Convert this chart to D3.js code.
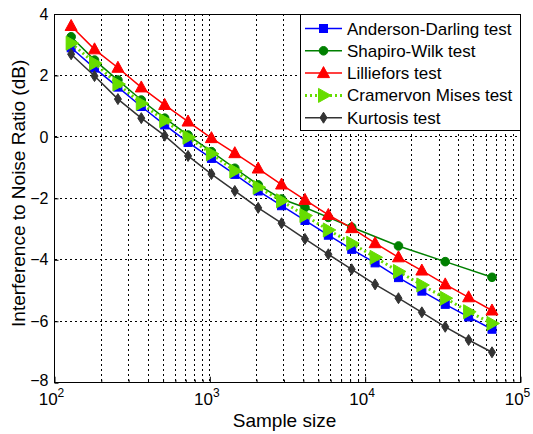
<!DOCTYPE html>
<html><head><meta charset="utf-8">
<script src="https://cdn.jsdelivr.net/npm/d3@7"></script>
<style>body{margin:0;background:#fff}svg{display:block}text{font-family:"Liberation Sans",Arial,sans-serif}</style>
</head><body>
<svg id="c" width="533" height="434"></svg>
<script>
const sampleSizes = [128,181,256,362,512,724,1024,1448,2048,2896,4096,5793,8192,11585,16384,23170,32768,46341,65536];
const swSizes = [128,181,256,362,512,724,1024,1448,2048,2896,4096,5793,8192,16384,32768,65536];
const andersonDarling = [2.90,2.24,1.62,0.99,0.39,-0.18,-0.70,-1.22,-1.76,-2.24,-2.72,-3.20,-3.66,-4.10,-4.58,-5.02,-5.45,-5.86,-6.26];
const shapiroWilk = [3.26,2.50,1.85,1.20,0.61,0.06,-0.48,-1.02,-1.56,-2.02,-2.30,-2.62,-2.94,-3.55,-4.06,-4.57];
const lilliefors = [3.61,2.85,2.25,1.61,1.04,0.50,-0.04,-0.53,-1.03,-1.55,-2.05,-2.54,-2.97,-3.46,-3.92,-4.35,-4.80,-5.22,-5.65];
const cramervon = [3.05,2.40,1.72,1.09,0.53,-0.01,-0.55,-1.11,-1.64,-2.08,-2.56,-3.03,-3.46,-3.92,-4.38,-4.82,-5.25,-5.69,-6.07];
const kurtosis = [2.69,1.98,1.23,0.61,0.04,-0.62,-1.21,-1.76,-2.31,-2.81,-3.32,-3.82,-4.31,-4.80,-5.25,-5.71,-6.18,-6.61,-7.01];
const seriesNames = ["Anderson-Darling test","Shapiro-Wilk test","Lilliefors test","Cramervon Mises test","Kurtosis test"];
const xTickExps = [2,3,4,5];
const yTicks = [-8,-6,-4,-2,0,2,4];

const series = [
  {name:seriesNames[0], xs:sampleSizes, ys:andersonDarling, color:"#0000ff", marker:"square", dash:null, w:1.5},
  {name:seriesNames[1], xs:swSizes, ys:shapiroWilk, color:"#008000", marker:"circle", dash:null, w:1.5},
  {name:seriesNames[2], xs:sampleSizes, ys:lilliefors, color:"#ff0000", marker:"triUp", dash:null, w:1.5},
  {name:seriesNames[3], xs:sampleSizes, ys:cramervon, color:"#66dd00", marker:"triRight", dash:"2,3", w:3},
  {name:seriesNames[4], xs:sampleSizes, ys:kurtosis, color:"#333333", marker:"diamond", dash:null, w:1.5}
];

const L=54.5, R=520.5, T=14, B=382.7;
const svg = d3.select("#c");
const x = d3.scaleLog().domain([100,100000]).range([L,R]);
const y = d3.scaleLinear().domain([-8,4]).range([B,T]);

// grid
const minor = [];
for (let e=2;e<5;e++) for (let k=1;k<10;k++) minor.push(k*Math.pow(10,e));
minor.push(100000);
const g = svg.append("g").attr("shape-rendering","crispEdges");
g.selectAll("line.vg").data(minor.filter(v=>v>100&&v<100000)).enter().append("line")
  .attr("x1",d=>x(d)).attr("x2",d=>x(d)).attr("y1",T).attr("y2",B)
  .attr("stroke","#000").attr("stroke-width",1).attr("stroke-dasharray","2,3");
g.selectAll("line.hg").data(yTicks.filter(v=>v>-8&&v<4)).enter().append("line")
  .attr("x1",L).attr("x2",R).attr("y1",d=>y(d)).attr("y2",d=>y(d))
  .attr("stroke","#000").attr("stroke-width",1).attr("stroke-dasharray","2,3");

// axes box
svg.append("rect").attr("x",L).attr("y",T).attr("width",R-L).attr("height",B-T)
  .attr("fill","none").attr("stroke","#000").attr("stroke-width",1).attr("shape-rendering","crispEdges");

// ticks via d3 axes
const yAxis = d3.axisLeft(y).tickValues(yTicks).tickSize(-4).tickPadding(6).tickFormat(d3.format("d"));
const ya = svg.append("g").attr("transform",`translate(${L},0)`).call(yAxis);
ya.select(".domain").remove();
ya.selectAll("text").attr("font-size",16).attr("fill","#000").attr("font-family","Liberation Sans, Arial")
  .attr("dy",d=>d===-8?"0.2em":"0.32em");
const xAxis = d3.axisBottom(x).tickValues(minor.filter(v=>v>=100)).tickSize(-4).tickFormat("");
const xa = svg.append("g").attr("transform",`translate(0,${B})`).call(xAxis);
xa.select(".domain").remove();
xa.selectAll(".tick line").attr("y2",d=>xTickExps.some(e=>Math.abs(Math.pow(10,e)-d)<1)?-6:-3);
// x tick labels
const xl = svg.append("g");
xTickExps.forEach(e=>{
  const t = xl.append("text").attr("x",x(Math.pow(10,e))-3).attr("y",B+22).attr("text-anchor","middle")
    .attr("font-size",17).attr("fill","#000");
  t.append("tspan").text("10");
  t.append("tspan").attr("dy",-8).attr("font-size",12).text(e);
});
// titles
svg.append("text").attr("x",(L+R)/2-3).attr("y",427).attr("text-anchor","middle")
  .attr("font-size",19).text("Sample size");
svg.append("text").attr("transform",`translate(25,${(T+B)/2-5}) rotate(-90)`).attr("text-anchor","middle")
  .attr("font-size",19).text("Interference to Noise Ratio (dB)");

function marker(sel, type, color){
  sel.each(function(){
    const s = d3.select(this);
    if(type==="square") s.append("rect").attr("x",-4).attr("y",-4).attr("width",8).attr("height",8).attr("fill",color).attr("stroke",color);
    else if(type==="circle") s.append("circle").attr("r",4.3).attr("fill",color).attr("stroke",color);
    else if(type==="triUp") s.append("path").attr("d","M0,-6.5L6,4.5L-6,4.5Z").attr("fill",color).attr("stroke",color);
    else if(type==="triRight") s.append("path").attr("d","M7.5,0L-5,-7L-5,7Z").attr("fill",color).attr("stroke",color);
    else if(type==="diamond") s.append("path").attr("d","M0,-5.5L3.5,0L0,5.5L-3.5,0Z").attr("fill",color).attr("stroke",color);
  });
}

const line = d3.line().x(d=>x(d[0])).y(d=>y(d[1]));
series.forEach(s=>{
  const pts = s.xs.map((v,i)=>[v,s.ys[i]]);
  const gg = svg.append("g");
  gg.append("path").attr("d",line(pts)).attr("fill","none").attr("stroke",s.color)
    .attr("stroke-width",s.w).attr("stroke-dasharray",s.dash);
  gg.selectAll("g.m").data(pts).enter().append("g").attr("transform",d=>`translate(${x(d[0])},${y(d[1])})`)
    .call(sel=>marker(sel,s.marker,s.color));
});

// legend
const lg = svg.append("g");
lg.append("rect").attr("x",300).attr("y",T).attr("width",R-300).attr("height",116)
  .attr("fill","#fff").attr("stroke","#000").attr("stroke-width",1).attr("shape-rendering","crispEdges");
series.forEach((s,i)=>{
  const yy = 28.5 + i*22.3;
  lg.append("line").attr("x1",305).attr("x2",342).attr("y1",yy).attr("y2",yy)
    .attr("stroke",s.color).attr("stroke-width",s.w).attr("stroke-dasharray",s.dash);
  lg.append("g").attr("transform",`translate(323.5,${yy})`).call(sel=>marker(sel,s.marker,s.color));
  lg.append("text").attr("x",347).attr("y",yy+6).attr("font-size",17).attr("fill","#000").text(s.name);
});
</script>
</body></html>
